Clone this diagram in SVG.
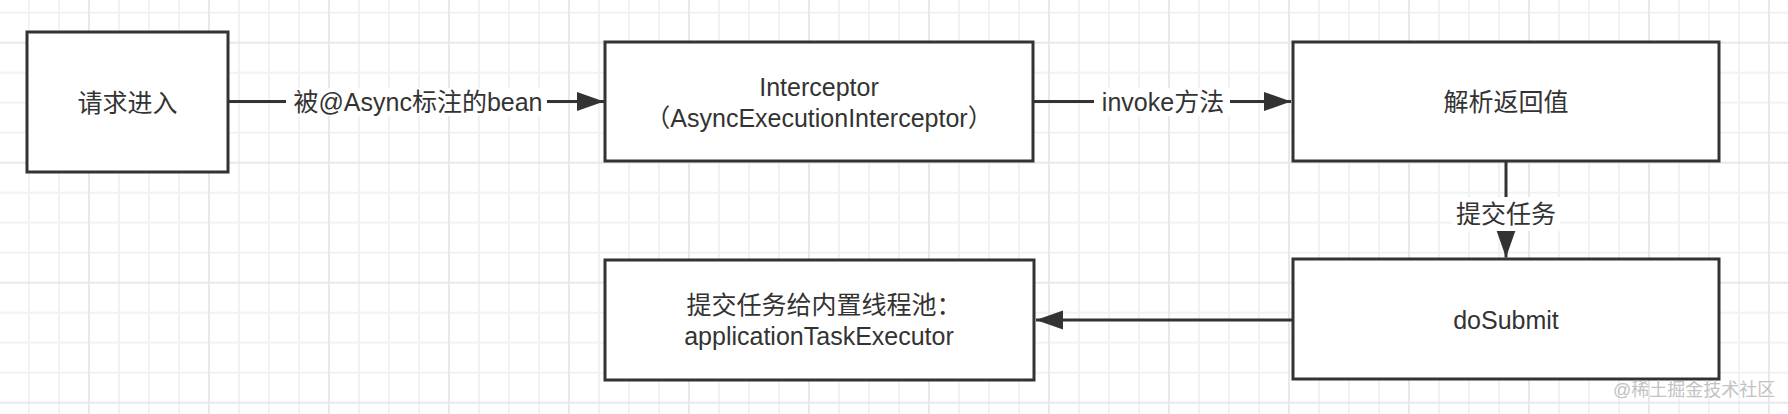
<svg xmlns="http://www.w3.org/2000/svg" width="1788" height="414" viewBox="0 0 1788 414">
  <style>
    .box { fill: #ffffff; stroke: #333333; stroke-width: 3; }
    .txt { font-family: "Liberation Sans", "Noto Sans CJK SC", sans-serif; font-size: 25px; fill: #333333; text-anchor: middle; dominant-baseline: central; }
    .edge { fill: none; stroke: #333333; stroke-width: 3; }
    .lblbg { fill: #ffffff; }
    .wm { font-family: "Liberation Sans", "Noto Sans CJK SC", sans-serif; font-size: 18px; fill: #c2c2c2; text-anchor: start; dominant-baseline: central; }
  </style>
  <defs>
    <pattern id="grid" width="120" height="120" patternUnits="userSpaceOnUse" x="-46" y="27.7">
      <path d="M45 0V120M75 0V120M105 0V120M0 45H120M0 75H120M0 105H120" stroke="#f2f2f2" stroke-width="2" fill="none"/>
      <path d="M15 0V120M0 15H120" stroke="#e8e8e8" stroke-width="2" fill="none"/>
    </pattern>
    <marker id="arrow" markerUnits="userSpaceOnUse" markerWidth="28" markerHeight="20" refX="27" refY="9.5" orient="auto">
      <path d="M0 0L27 9.5L0 19Z" fill="#333333"/>
    </marker>
  </defs>
  <rect x="0" y="0" width="1788" height="414" fill="#ffffff"/>
  <rect x="0" y="0" width="1788" height="414" fill="url(#grid)"/>

  <g id="connectors">
    <path class="edge" d="M228 101.5H604" marker-end="url(#arrow)"/>
    <rect class="lblbg" x="286" y="88" width="261" height="28"/>
    <text class="txt" x="418" y="102">被@Async标注的bean</text>

    <path class="edge" d="M1033 101.5H1291" marker-end="url(#arrow)"/>
    <rect class="lblbg" x="1094" y="88" width="136" height="28"/>
    <text class="txt" x="1163" y="102">invoke方法</text>

    <path class="edge" d="M1506 161V257.5" marker-end="url(#arrow)"/>
    <rect class="lblbg" x="1452" y="197" width="108" height="34"/>
    <text class="txt" x="1506" y="214">提交任务</text>

    <path class="edge" d="M1292 320H1036" marker-end="url(#arrow)"/>
  </g>

  <g id="node-request">
    <rect class="box" x="27" y="32" width="201" height="140"/>
    <text class="txt" x="127.5" y="102.5">请求进入</text>
  </g>

  <g id="node-interceptor">
    <rect class="box" x="605" y="42" width="428" height="119"/>
    <text class="txt" x="819" y="87">Interceptor</text>
    <text class="txt" x="819" y="118">（AsyncExecutionInterceptor）</text>
  </g>

  <g id="node-parse">
    <rect class="box" x="1293" y="42" width="426" height="119"/>
    <text class="txt" x="1506" y="102">解析返回值</text>
  </g>

  <g id="node-dosubmit">
    <rect class="box" x="1293" y="259" width="426" height="120"/>
    <text class="txt" x="1506" y="320">doSubmit</text>
  </g>

  <g id="node-executor">
    <rect class="box" x="605" y="260" width="429" height="120"/>
    <text class="txt" x="824" y="305">提交任务给内置线程池：</text>
    <text class="txt" x="819" y="336">applicationTaskExecutor</text>
  </g>

  <text class="wm" x="1613" y="390">@稀土掘金技术社区</text>
</svg>
